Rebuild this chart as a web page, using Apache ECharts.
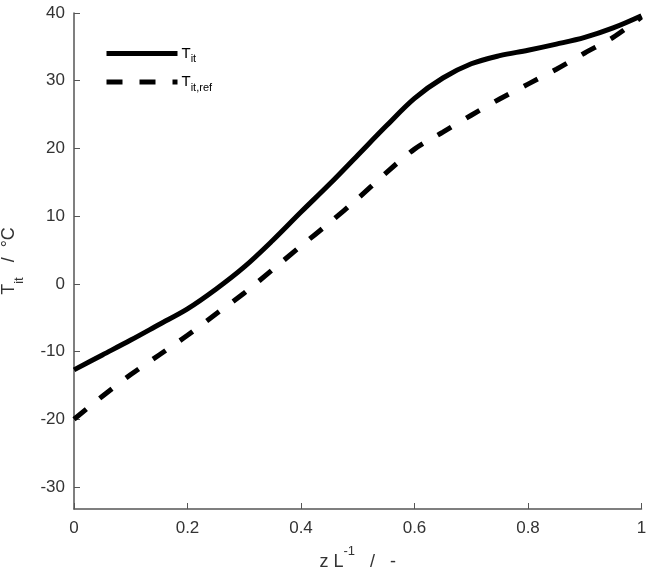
<!DOCTYPE html>
<html>
<head>
<meta charset="utf-8">
<script src="https://cdn.jsdelivr.net/npm/echarts@6/dist/echarts.min.js"></script>
<style>html,body{margin:0;padding:0;background:#fff}#c{width:646px;height:575px}</style>
</head>
<body>
<div id="c"></div>
<script>
const zValues = [0, 0.05, 0.1, 0.15, 0.2, 0.25, 0.3, 0.35, 0.4, 0.45, 0.5, 0.55, 0.6, 0.65, 0.7, 0.75, 0.8, 0.85, 0.9, 0.95, 1.0];
const tIt = [-12.7, -10.5, -8.3, -6.0, -3.7, -0.8, 2.5, 6.4, 10.6, 14.7, 19.0, 23.3, 27.4, 30.4, 32.5, 33.7, 34.5, 35.4, 36.4, 37.8, 39.6];
const tItRef = [-20.0, -16.6, -13.4, -10.5, -7.6, -4.45, -1.35, 2.1, 5.6, 9.0, 12.6, 16.4, 19.9, 22.4, 24.9, 27.3, 29.5, 31.7, 34.1, 36.4, 39.4];
const seriesNames = ['T_it', 'T_it,ref'];
const yTickValues = [40, 30, 20, 10, 0, -10, -20, -30];

const FONT = "'Liberation Sans', Arial, Helvetica, sans-serif";
const chart = echarts.init(document.getElementById('c'), null, {renderer: 'canvas'});
const pair = arr => zValues.map((z, i) => [z, arr[i]]);

chart.setOption({
  animation: false,
  backgroundColor: '#fff',
  grid: {left: 74, right: 4.5, top: 13, bottom: 66, containLabel: false, outerBoundsMode: 'none'},
  legend: {
    left: 104, top: 46, orient: 'vertical', padding: 0,
    itemWidth: 71, itemHeight: 10, itemGap: 10,
    data: seriesNames,
    itemStyle: {opacity: 0, borderWidth: 0},
    lineStyle: {width: 5, color: '#000'},
    formatter: function (n) {
      return n === 'T_it' ? '{t|T}{s|it}' : '{t|T}{s|it,ref}';
    },
    textStyle: {
      fontFamily: FONT, color: '#000', padding: [0, 0, 0, -1],
      rich: {
        t: {fontFamily: FONT, fontSize: 15, color: '#000', lineHeight: 22, verticalAlign: 'middle'},
        s: {fontFamily: FONT, fontSize: 11, color: '#000', lineHeight: 11, verticalAlign: 'bottom'}
      }
    }
  },
  xAxis: {
    type: 'value', min: 0, max: 1, interval: 0.2,
    name: '{a|z L}{p|-1}{a|   /   -}',
    nameLocation: 'middle', nameGap: 36,
    nameTextStyle: {
      rich: {
        a: {fontFamily: FONT, fontSize: 18, color: '#333', lineHeight: 26, verticalAlign: 'bottom'},
        p: {fontFamily: FONT, fontSize: 13, color: '#333', lineHeight: 13, verticalAlign: 'top'}
      }
    },
    axisLine: {show: true, onZero: false, lineStyle: {color: '#555', width: 1.5}},
    axisTick: {show: true, inside: true, length: 6, lineStyle: {color: '#555', width: 1}},
    axisLabel: {fontFamily: FONT, fontSize: 17, color: '#333', margin: 11},
    splitLine: {show: false}
  },
  yAxis: {
    type: 'value', min: -33.25, max: 40, splitNumber: 7,
    name: '{a|T}{b|it}{a|   /  °C}',
    nameLocation: 'middle', nameGap: 48,
    nameTextStyle: {
      rich: {
        a: {fontFamily: FONT, fontSize: 18, color: '#333', lineHeight: 26, verticalAlign: 'top'},
        b: {fontFamily: FONT, fontSize: 13, color: '#333', lineHeight: 13, verticalAlign: 'bottom'}
      }
    },
    axisLine: {show: true, onZero: false, lineStyle: {color: '#555', width: 1.5}},
    axisTick: {show: true, inside: true, length: 6, lineStyle: {color: '#555', width: 1}},
    axisLabel: {
      fontFamily: FONT, fontSize: 17, color: '#333', margin: 9,
      showMinLabel: false,
      formatter: function (v) {
        return yTickValues.indexOf(Math.round(v * 1000) / 1000) >= 0 ? String(v) : '';
      }
    },
    splitLine: {show: false}
  },
  series: [
    {
      name: seriesNames[0], type: 'line', data: pair(tIt), showSymbol: false, symbol: 'none',
      smooth: 0.35, lineStyle: {color: '#000', width: 5, type: 'solid', cap: 'butt'},
      itemStyle: {color: '#000'}
    },
    {
      name: seriesNames[1], type: 'line', data: pair(tItRef), showSymbol: false, symbol: 'none',
      smooth: 0.3, lineStyle: {color: '#000', width: 5, type: [16, 17], cap: 'butt'},
      itemStyle: {color: '#000'}
    }
  ]
});
</script>
</body>
</html>
